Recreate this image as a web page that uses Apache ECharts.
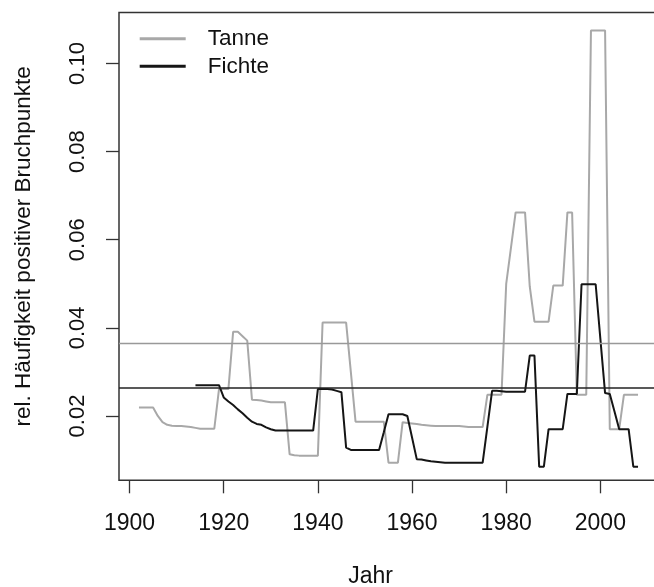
<!DOCTYPE html>
<html>
<head>
<meta charset="utf-8">
<script src="https://cdn.jsdelivr.net/npm/echarts@6/dist/echarts.min.js"></script>
<style>
html,body{margin:0;padding:0;background:#fff;}
#chart{width:654px;height:587px;}
</style>
</head>
<body>
<div id="chart"></div>
<script>
// ---- data ----
const tanneStart = 1902;
const tanneValues = [
  0.0219, 0.0219, 0.0219, 0.0219, 0.0200, 0.0186, 0.0180, 0.0178,             // 1902-1909
  0.0177, 0.0177, 0.0176, 0.0175, 0.0173, 0.0171, 0.0171, 0.0171, 0.0171, 0.0261, // 1910-1919
  0.0261, 0.0261, 0.0391, 0.0391, 0.0381, 0.0371, 0.0237, 0.0236, 0.0235, 0.0233, // 1920-1929
  0.0231, 0.0231, 0.0231, 0.0231, 0.0113, 0.0111, 0.0110, 0.0110, 0.0110, 0.0110, // 1930-1939
  0.0110, 0.0412, 0.0412, 0.0412, 0.0412, 0.0412, 0.0412, 0.0300, 0.0187, 0.0187, // 1940-1949
  0.0187, 0.0187, 0.0187, 0.0187, 0.0187, 0.0094, 0.0094, 0.0094, 0.0186, 0.0184, // 1950-1959
  0.0183, 0.0182, 0.0180, 0.0179, 0.0178, 0.0177, 0.0177, 0.0177, 0.0177, 0.0177, // 1960-1969
  0.0177, 0.0176, 0.0175, 0.0175, 0.0175, 0.0175, 0.0248, 0.0248, 0.0248, 0.0248, // 1970-1979
  0.0500, 0.0581, 0.0662, 0.0662, 0.0662, 0.0494, 0.0414, 0.0414, 0.0414, 0.0414, // 1980-1989
  0.0496, 0.0496, 0.0496, 0.0662, 0.0662, 0.0248, 0.0248, 0.0248, 0.1075, 0.1075, // 1990-1999
  0.1075, 0.1075, 0.0170, 0.0170, 0.0170, 0.0248, 0.0248, 0.0248, 0.0248          // 2000-2008
];
const fichteStart = 1914;
const fichteValues = [
  0.0270, 0.0270, 0.0270, 0.0270, 0.0270, 0.0270,                                 // 1914-1919
  0.0242, 0.0233, 0.0225, 0.0215, 0.0206, 0.0196, 0.0187, 0.0182, 0.0180, 0.0174, // 1920-1929
  0.0170, 0.0167, 0.0167, 0.0167, 0.0167, 0.0167, 0.0167, 0.0167, 0.0167, 0.0167, // 1930-1939
  0.0261, 0.0261, 0.0261, 0.0260, 0.0257, 0.0254, 0.0128, 0.0123, 0.0123, 0.0123, // 1940-1949
  0.0123, 0.0123, 0.0123, 0.0123, 0.0163, 0.0204, 0.0204, 0.0204, 0.0204, 0.0200, // 1950-1959
  0.0151, 0.0102, 0.0101, 0.0099, 0.0097, 0.0096, 0.0095, 0.0094, 0.0094, 0.0094, // 1960-1969
  0.0094, 0.0094, 0.0094, 0.0094, 0.0094, 0.0094, 0.0175, 0.0257, 0.0257, 0.0256, // 1970-1979
  0.0255, 0.0255, 0.0255, 0.0255, 0.0255, 0.0337, 0.0337, 0.0085, 0.0085, 0.0170, // 1980-1989
  0.0170, 0.0170, 0.0170, 0.0250, 0.0250, 0.0250, 0.0499, 0.0499, 0.0499, 0.0499, // 1990-1999
  0.0375, 0.0252, 0.0250, 0.0210, 0.0170, 0.0170, 0.0170, 0.0085, 0.0085          // 2000-2008
];
const tanneMean = 0.0366;
const fichteMean = 0.0263;
const xTicks = [1900, 1920, 1940, 1960, 1980, 2000];
const yTicks = [0.02, 0.04, 0.06, 0.08, 0.10];
const seriesNames = ['Tanne', 'Fichte'];

// ---- build series data ----
const tanneYears = tanneValues.map((_, i) => tanneStart + i);
const fichteYears = fichteValues.map((_, i) => fichteStart + i);
const tanneData = tanneValues.map((v, i) => [tanneYears[i], v]);
const fichteData = fichteValues.map((v, i) => [fichteYears[i], v]);

const FONT = 'Liberation Sans, Arial, Helvetica, sans-serif';
const chart = echarts.init(document.getElementById('chart'), null, {renderer: 'canvas'});
chart.setOption({
  animation: false,
  backgroundColor: '#ffffff',
  grid: {
    left: 119, top: 12.4, width: 539, bottom: 106.7,
    containLabel: false, outerBoundsMode: 'none',
    show: true, borderColor: '#333333', borderWidth: 1.5, backgroundColor: 'transparent'
  },
  legend: {
    data: seriesNames,
    orient: 'vertical',
    left: 139.7, top: 26.7,
    padding: 0,
    icon: 'rect',
    itemWidth: 46, itemHeight: 3,
    itemGap: 3.6,
    textStyle: {fontFamily: FONT, fontSize: 22.5, color: '#111111', lineHeight: 24, padding: [0, 0, 0, 17]}
  },
  xAxis: {
    type: 'value',
    min: 1897.76, max: 2012.24,
    axisLine: {show: false},
    splitLine: {show: false},
    axisTick: {show: true, customValues: xTicks, length: 13, lineStyle: {color: '#333333', width: 1.3}},
    axisLabel: {customValues: xTicks, margin: 32, fontSize: 23, color: '#111111', fontFamily: FONT,
      formatter: v => String(Math.round(v))},
    name: 'Jahr',
    nameLocation: 'middle',
    nameGap: 85,
    nameTextStyle: {fontSize: 23, color: '#111111', fontFamily: FONT, padding: [0, 36, 0, 0]}
  },
  yAxis: {
    type: 'value',
    min: 0.0054, max: 0.1116,
    axisLine: {show: false},
    splitLine: {show: false},
    axisTick: {show: true, customValues: yTicks, length: 13, lineStyle: {color: '#333333', width: 1.3}},
    axisLabel: {customValues: yTicks, rotate: 90, margin: 30, fontSize: 22, color: '#111111', fontFamily: FONT,
      formatter: v => Number(v).toFixed(2)},
    name: 'rel. Häufigkeit positiver Bruchpunkte',
    nameLocation: 'middle',
    nameRotate: 90,
    nameGap: 84,
    nameTextStyle: {fontSize: 22.5, color: '#111111', fontFamily: FONT}
  },
  series: [
    {
      name: seriesNames[0], type: 'line', data: tanneData,
      showSymbol: false, symbol: 'none',
      color: '#a8a8a8',
      lineStyle: {color: '#a8a8a8', width: 2},
      markLine: {
        silent: true, symbol: 'none', label: {show: false}, precision: 5,
        lineStyle: {color: '#999999', width: 1.4, type: 'solid'},
        data: [{yAxis: tanneMean}]
      }
    },
    {
      name: seriesNames[1], type: 'line', data: fichteData,
      showSymbol: false, symbol: 'none',
      color: '#151515',
      lineStyle: {color: '#151515', width: 2},
      markLine: {
        silent: true, symbol: 'none', label: {show: false}, precision: 5,
        lineStyle: {color: '#222222', width: 1.5, type: 'solid'},
        data: [{yAxis: fichteMean}]
      }
    }
  ]
});
</script>
</body>
</html>
